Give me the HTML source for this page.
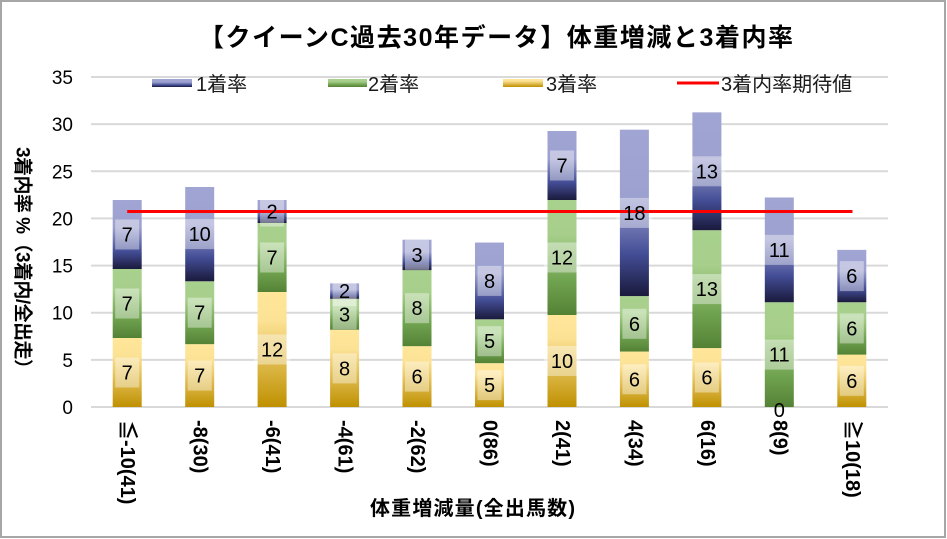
<!DOCTYPE html>
<html><head><meta charset="utf-8"><style>
html,body{margin:0;padding:0;background:#fff;}
svg{display:block;}
text{font-family:"Liberation Sans","Noto Sans CJK JP",sans-serif;}
</style></head><body>
<svg width="947" height="539" viewBox="0 0 947 539" xmlns="http://www.w3.org/2000/svg">
<defs>
<linearGradient id="gb" x1="0" y1="0" x2="0" y2="1">
<stop offset="0" stop-color="#A1A5D3"/><stop offset="0.4" stop-color="#9DA1CF"/><stop offset="0.75" stop-color="#434D95"/><stop offset="1" stop-color="#1A1A3C"/>
</linearGradient>
<linearGradient id="gg" x1="0" y1="0" x2="0" y2="1">
<stop offset="0" stop-color="#A9D18E"/><stop offset="0.3" stop-color="#A7CF8B"/><stop offset="0.7" stop-color="#70A350"/><stop offset="1" stop-color="#548235"/>
</linearGradient>
<linearGradient id="gy" x1="0" y1="0" x2="0" y2="1">
<stop offset="0" stop-color="#FFE699"/><stop offset="0.25" stop-color="#FCE295"/><stop offset="1" stop-color="#BF9000"/>
</linearGradient>
</defs>
<rect x="0" y="0" width="947" height="539" fill="#fff"/>
<rect x="1" y="1" width="944" height="536" fill="none" stroke="#A6A6A6" stroke-width="2"/>

<!-- title -->
<text x="496" y="46" text-anchor="middle" font-size="25" font-weight="bold" fill="#000" textLength="594" lengthAdjust="spacing">【クイーンC過去30年データ】体重増減と3着内率</text>

<!-- gridlines -->
<g stroke="#D9D9D9" stroke-width="2">
<line x1="91" y1="77" x2="888" y2="77"/>
<line x1="91" y1="124.14" x2="888" y2="124.14"/>
<line x1="91" y1="171.29" x2="888" y2="171.29"/>
<line x1="91" y1="218.43" x2="888" y2="218.43"/>
<line x1="91" y1="265.57" x2="888" y2="265.57"/>
<line x1="91" y1="312.71" x2="888" y2="312.71"/>
<line x1="91" y1="359.86" x2="888" y2="359.86"/>
<line x1="91" y1="407" x2="888" y2="407"/>
</g>

<!-- y tick labels -->
<g font-size="19" fill="#000" text-anchor="end">
<text x="73" y="84">35</text>
<text x="73" y="131.1">30</text>
<text x="73" y="178.3">25</text>
<text x="73" y="225.4">20</text>
<text x="73" y="272.6">15</text>
<text x="73" y="319.7">10</text>
<text x="73" y="366.9">5</text>
<text x="73" y="414">0</text>
</g>

<!-- y axis title -->
<text transform="translate(22,262.5) rotate(90)" text-anchor="middle" dominant-baseline="central" font-size="19" font-weight="bold" fill="#000" textLength="231" lengthAdjust="spacing">3着内率 %（3着内/全出走）</text>

<!-- legend -->
<rect x="152" y="79" width="40" height="8" fill="url(#gb)"/>
<text x="196" y="91" font-size="20" fill="#1a1a1a">1着率</text>
<rect x="328" y="79" width="39" height="8" fill="url(#gg)"/>
<text x="368" y="91" font-size="20" fill="#1a1a1a">2着率</text>
<rect x="503" y="79" width="40" height="8" fill="url(#gy)"/>
<text x="546" y="91" font-size="20" fill="#1a1a1a">3着率</text>
<line x1="677" y1="83" x2="719" y2="83" stroke="#FF0000" stroke-width="3"/>
<text x="721" y="91" font-size="20" fill="#1a1a1a">3着内率期待値</text>

<!-- bars -->
<g>
<rect x="112.7" y="338" width="29" height="69" fill="url(#gy)"/>
<rect x="112.7" y="269" width="29" height="69" fill="url(#gg)"/>
<rect x="112.7" y="200" width="29" height="69" fill="url(#gb)"/>

<rect x="185.2" y="344.14" width="29" height="62.86" fill="url(#gy)"/>
<rect x="185.2" y="281.29" width="29" height="62.86" fill="url(#gg)"/>
<rect x="185.2" y="187" width="29" height="94.29" fill="url(#gb)"/>

<rect x="257.6" y="292" width="29" height="115" fill="url(#gy)"/>
<rect x="257.6" y="223" width="29" height="69" fill="url(#gg)"/>
<rect x="257.6" y="200" width="29" height="23" fill="url(#gb)"/>

<rect x="330.1" y="329.72" width="29" height="77.28" fill="url(#gy)"/>
<rect x="330.1" y="298.81" width="29" height="30.91" fill="url(#gg)"/>
<rect x="330.1" y="283.35" width="29" height="15.46" fill="url(#gb)"/>

<rect x="402.5" y="346.17" width="29" height="60.83" fill="url(#gy)"/>
<rect x="402.5" y="270.13" width="29" height="76.04" fill="url(#gg)"/>
<rect x="402.5" y="239.72" width="29" height="30.41" fill="url(#gb)"/>

<rect x="475" y="363.15" width="29" height="43.85" fill="url(#gy)"/>
<rect x="475" y="319.3" width="29" height="43.85" fill="url(#gg)"/>
<rect x="475" y="242.56" width="29" height="76.74" fill="url(#gb)"/>

<rect x="547.5" y="315" width="29" height="92" fill="url(#gy)"/>
<rect x="547.5" y="200" width="29" height="115" fill="url(#gg)"/>
<rect x="547.5" y="131" width="29" height="69" fill="url(#gb)"/>

<rect x="619.9" y="351.54" width="29" height="55.46" fill="url(#gy)"/>
<rect x="619.9" y="296.08" width="29" height="55.46" fill="url(#gg)"/>
<rect x="619.9" y="129.69" width="29" height="166.39" fill="url(#gb)"/>

<rect x="692.4" y="348.07" width="29" height="58.93" fill="url(#gy)"/>
<rect x="692.4" y="230.21" width="29" height="117.86" fill="url(#gg)"/>
<rect x="692.4" y="112.35" width="29" height="117.86" fill="url(#gb)"/>

<rect x="764.8" y="302.24" width="29" height="104.76" fill="url(#gg)"/>
<rect x="764.8" y="197.48" width="29" height="104.76" fill="url(#gb)"/>

<rect x="837.3" y="354.62" width="29" height="52.38" fill="url(#gy)"/>
<rect x="837.3" y="302.24" width="29" height="52.38" fill="url(#gg)"/>
<rect x="837.3" y="249.86" width="29" height="52.38" fill="url(#gb)"/>
</g>

<!-- label boxes -->
<g fill="#FFFFFF" fill-opacity="0.4">
<rect x="115.2" y="357.5" width="24" height="30"/>
<rect x="115.2" y="288.5" width="24" height="30"/>
<rect x="115.2" y="219.5" width="24" height="30"/>

<rect x="187.7" y="360.6" width="24" height="30"/>
<rect x="187.7" y="297.7" width="24" height="30"/>
<rect x="181.7" y="219.1" width="36" height="30"/>

<rect x="254.1" y="334.5" width="36" height="30"/>
<rect x="260.1" y="242.5" width="24" height="30"/>
<rect x="260.1" y="196.5" width="24" height="30"/>

<rect x="332.6" y="353.4" width="24" height="30"/>
<rect x="332.6" y="299.3" width="24" height="30"/>
<rect x="332.6" y="276.1" width="24" height="30"/>

<rect x="405" y="361.6" width="24" height="30"/>
<rect x="405" y="293.2" width="24" height="30"/>
<rect x="405" y="239.9" width="24" height="30"/>

<rect x="477.5" y="370.1" width="24" height="30"/>
<rect x="477.5" y="326.2" width="24" height="30"/>
<rect x="477.5" y="265.9" width="24" height="30"/>

<rect x="544" y="346" width="36" height="30"/>
<rect x="544" y="242.5" width="36" height="30"/>
<rect x="550" y="150.5" width="24" height="30"/>

<rect x="622.4" y="364.3" width="24" height="30"/>
<rect x="622.4" y="308.8" width="24" height="30"/>
<rect x="616.4" y="197.9" width="36" height="30"/>

<rect x="694.9" y="362.5" width="24" height="30"/>
<rect x="688.9" y="274.1" width="36" height="30"/>
<rect x="688.9" y="156.3" width="36" height="30"/>

<rect x="761.3" y="339.6" width="36" height="30"/>
<rect x="761.3" y="234.9" width="36" height="30"/>

<rect x="839.8" y="365.8" width="24" height="30"/>
<rect x="839.8" y="313.4" width="24" height="30"/>
<rect x="839.8" y="261.1" width="24" height="30"/>
</g>

<!-- expected line -->
<line x1="127.2" y1="211.5" x2="852.5" y2="211.5" stroke="#FF0000" stroke-width="3"/>

<!-- label text -->
<g font-size="20" fill="#000" text-anchor="middle">
<text x="127.2" y="379.5">7</text>
<text x="127.2" y="310.5">7</text>
<text x="127.2" y="241.5">7</text>

<text x="199.7" y="382.6">7</text>
<text x="199.7" y="319.7">7</text>
<text x="199.7" y="241.1">10</text>

<text x="272.1" y="356.5">12</text>
<text x="272.1" y="264.5">7</text>
<text x="272.1" y="218.5">2</text>

<text x="344.6" y="375.4">8</text>
<text x="344.6" y="321.3">3</text>
<text x="344.6" y="298.1">2</text>

<text x="417" y="383.6">6</text>
<text x="417" y="315.2">8</text>
<text x="417" y="261.9">3</text>

<text x="489.5" y="392.1">5</text>
<text x="489.5" y="348.2">5</text>
<text x="489.5" y="287.9">8</text>

<text x="562" y="368">10</text>
<text x="562" y="264.5">12</text>
<text x="562" y="172.5">7</text>

<text x="634.4" y="386.3">6</text>
<text x="634.4" y="330.8">6</text>
<text x="634.4" y="219.9">18</text>

<text x="706.9" y="384.5">6</text>
<text x="706.9" y="296.1">13</text>
<text x="706.9" y="178.3">13</text>

<text x="779.3" y="417">0</text>
<text x="779.3" y="361.6">11</text>
<text x="779.3" y="256.9">11</text>

<text x="851.8" y="387.8">6</text>
<text x="851.8" y="335.4">6</text>
<text x="851.8" y="283.1">6</text>
</g>

<!-- x labels -->
<g font-size="20" font-weight="bold" fill="#000">
<text transform="translate(127.2,420) rotate(90)" dominant-baseline="central">≦-10(41)</text>
<text transform="translate(199.7,420) rotate(90)" dominant-baseline="central">-8(30)</text>
<text transform="translate(272.1,420) rotate(90)" dominant-baseline="central">-6(41)</text>
<text transform="translate(344.6,420) rotate(90)" dominant-baseline="central">-4(61)</text>
<text transform="translate(417,420) rotate(90)" dominant-baseline="central">-2(62)</text>
<text transform="translate(489.5,420) rotate(90)" dominant-baseline="central">0(86)</text>
<text transform="translate(562,420) rotate(90)" dominant-baseline="central">2(41)</text>
<text transform="translate(634.4,420) rotate(90)" dominant-baseline="central">4(34)</text>
<text transform="translate(706.9,420) rotate(90)" dominant-baseline="central">6(16)</text>
<text transform="translate(779.3,420) rotate(90)" dominant-baseline="central">8(9)</text>
<text transform="translate(851.8,420) rotate(90)" dominant-baseline="central">≧10(18)</text>
</g>

<!-- x axis title -->
<text x="472.5" y="515" text-anchor="middle" font-size="20" font-weight="bold" fill="#000" textLength="205" lengthAdjust="spacing">体重増減量(全出馬数)</text>
</svg>
</body></html>
